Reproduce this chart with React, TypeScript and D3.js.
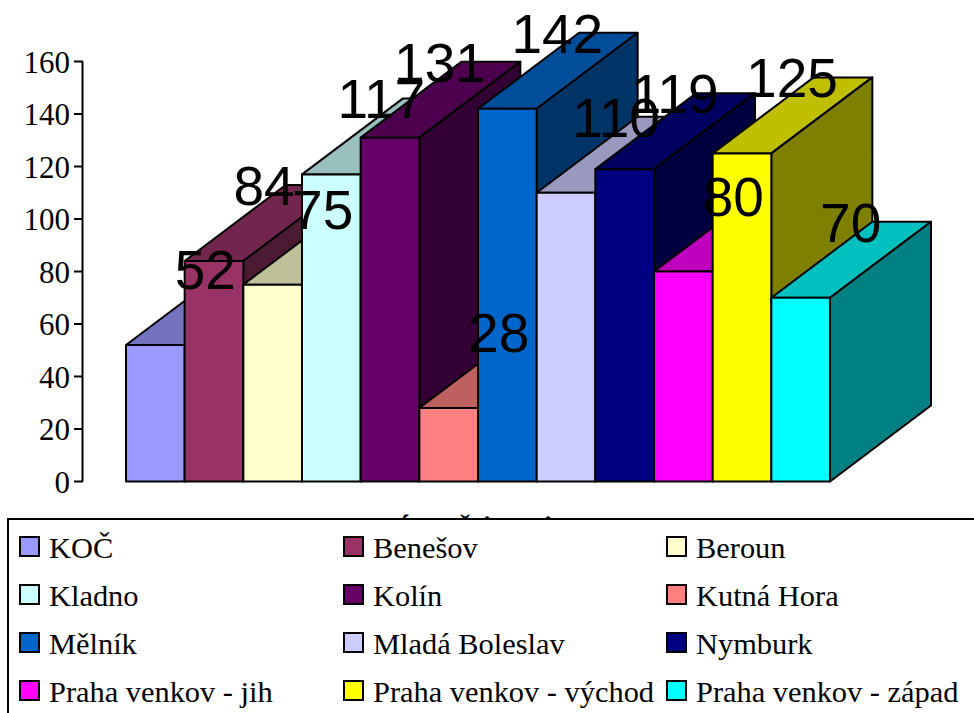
import React from "react";
import * as d3 from "d3";

const categories = ["KOČ","Benešov","Beroun","Kladno","Kolín","Kutná Hora","Mělník","Mladá Boleslav","Nymburk","Praha venkov - jih","Praha venkov - východ","Praha venkov - západ"];
const values = [52,84,75,117,131,28,142,110,119,80,125,70];
const colors = ["#9999FF","#993366","#FFFFCC","#CCFFFF","#660066","#FF8080","#0066CC","#CCCCFF","#000080","#FF00FF","#FFFF00","#00FFFF"];
const yTicks = [0,20,40,60,80,100,120,140,160];
// The axis title is hidden behind the legend; only these glyph tops show above it.
const titleMarks = [
  { s: "´", x: 405, base: 535 },
  { s: "ˇ", x: 465, base: 535 },
  { s: ".", x: 487, base: 521 },
  { s: ".", x: 548, base: 521 },
];

const W = 974, H = 713;
const DX = 101, DY = -76;
const x = d3.scaleBand<string>().domain(categories).range([126, 830]).padding(0);
const y = d3.scaleLinear().domain([0, 160]).range([481.5, 61.5]);
const shade = (c: string, k: number) => {
  const r = d3.rgb(c);
  return d3.rgb(r.r * k, r.g * k, r.b * k).formatHex();
};
const poly = (pts: [number, number][]) => d3.line()(pts) + "Z";
const serif = "'Liberation Serif'";
const sans = "'Liberation Sans'";
const legendCols = [20, 344, 667];
const legendRows = [537, 585, 633, 681];

export default function App() {
  return (
    <svg width={W} height={H} style={{ position: "absolute", left: 0, top: 0, background: "#fff" }}>
      <line x1={82.5} x2={82.5} y1={y(160)} y2={y(0)} stroke="#000" strokeWidth={2} />
      {yTicks.map((t) => (
        <g key={t}>
          <line x1={74} x2={83} y1={y(t)} y2={y(t)} stroke="#000" strokeWidth={2} />
          <text x={70} y={y(t) + 11} textAnchor="end" fontFamily={serif} fontSize={31} fill="#000">{t}</text>
        </g>
      ))}
      {categories.map((c, i) => {
        const x0 = x(c)!, x1 = x0 + x.bandwidth(), yt = y(values[i]), yb = y(0);
        return (
          <g key={c} stroke="#000" strokeWidth={2} strokeLinejoin="round">
            <path d={poly([[x0, yt], [x0 + DX, yt + DY], [x1 + DX, yt + DY], [x1, yt]])} fill={shade(colors[i], 0.75)} />
            <path d={poly([[x1, yt], [x1 + DX, yt + DY], [x1 + DX, yb + DY], [x1, yb]])} fill={shade(colors[i], 0.5)} />
            <rect x={x0} y={yt} width={x.bandwidth()} height={yb - yt} fill={colors[i]} />
          </g>
        );
      })}
      {categories.map((c, i) => (
        <text key={c} x={x(c)! + x.bandwidth() / 2 + DX / 2 - 0.5} y={y(values[i]) + DY + 20} textAnchor="middle" fontFamily={sans} fontSize={55} fill="#000">{values[i]}</text>
      ))}
      {titleMarks.map((m) => (
        <text key={m.x} x={m.x} y={m.base} textAnchor="middle" fontFamily={serif} fontWeight="bold" fontSize={29} fill="#000">{m.s}</text>
      ))}
      <rect x={8} y={519} width={980} height={210} fill="#fff" stroke="#000" strokeWidth={2} />
      {categories.map((c, i) => {
        const lx = legendCols[i % 3], ly = legendRows[Math.floor(i / 3)];
        return (
          <g key={c}>
            <rect x={lx} y={ly} width={19} height={19} fill={colors[i]} stroke="#000" strokeWidth={2} />
            <text x={lx + 29} y={ly + 21} fontFamily={serif} fontSize={30.4} fill="#000">{c}</text>
          </g>
        );
      })}
    </svg>
  );
}
